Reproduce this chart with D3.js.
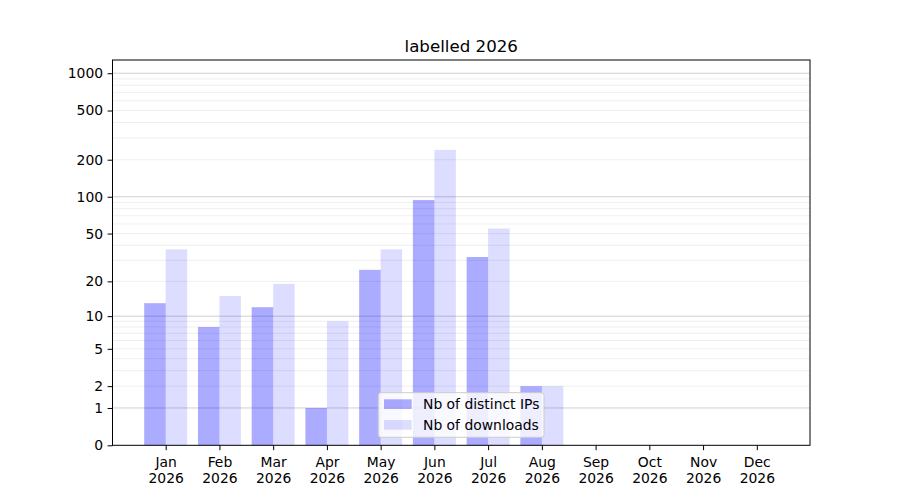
<!DOCTYPE html>
<html>
<head>
<meta charset="utf-8">
<script src="https://cdn.jsdelivr.net/npm/d3@7/dist/d3.min.js"></script>
<style>
  html, body { margin: 0; padding: 0; background: #fff; }
  svg { display: block; font-family: "DejaVu Sans", sans-serif; }
</style>
</head>
<body>
<svg id="chart" width="900" height="500"></svg>
<script>
const months = ["Jan", "Feb", "Mar", "Apr", "May", "Jun", "Jul", "Aug", "Sep", "Oct", "Nov", "Dec"];
const yearLabel = "2026";
const distinctIPs = [13, 8, 12, 1, 25, 94, 32, 2, 0, 0, 0, 0];
const downloads = [37, 15, 19, 9, 37, 240, 55, 2, 0, 0, 0, 0];
const seriesNames = ["Nb of distinct IPs", "Nb of downloads"];
const yTickValues = [0, 1, 2, 5, 10, 20, 50, 100, 200, 500, 1000];
const majorGrid = [1, 10, 100, 1000];
const minorGrid = [2,3,4,5,6,7,8,9,20,30,40,50,60,70,80,90,200,300,400,500,600,700,800,900];
const title = "labelled 2026";

const svg = d3.select("#chart");
const L = 112.5, R = 810, T = 60, B = 445.3;

const x = d3.scaleLinear().domain([-0.99, 11.99]).range([L, R]);
// log10(1 + v) transform
const t = v => Math.log10(1 + v);
const yT = d3.scaleLinear().domain([0, (B - T) / 124]).range([B, T]);
const y = v => yT(t(v));

const barW = x(0.4) - x(0);

// grid
const grid = svg.append("g");
grid.selectAll("line.minor").data(minorGrid).join("line")
  .attr("x1", L).attr("x2", R)
  .attr("y1", d => y(d)).attr("y2", d => y(d))
  .attr("stroke", "#ebebeb").attr("stroke-width", 0.8);
grid.selectAll("line.major").data(majorGrid).join("line")
  .attr("x1", L).attr("x2", R)
  .attr("y1", d => y(d)).attr("y2", d => y(d))
  .attr("stroke", "#c4c4c4").attr("stroke-width", 0.8);

// bars
const bars = svg.append("g");
bars.selectAll("rect.ip").data(distinctIPs).join("rect")
  .attr("x", (d, i) => x(i - 0.4))
  .attr("width", barW)
  .attr("y", d => y(d))
  .attr("height", d => B - y(d))
  .attr("fill", "#0000ff").attr("fill-opacity", 0.33);
bars.selectAll("rect.dl").data(downloads).join("rect")
  .attr("x", (d, i) => x(i))
  .attr("width", barW)
  .attr("y", d => y(d))
  .attr("height", d => B - y(d))
  .attr("fill", "#0000ff").attr("fill-opacity", 0.135);

// axes frame
svg.append("rect").attr("x", L).attr("y", T).attr("width", R - L).attr("height", B - T)
  .attr("fill", "none").attr("stroke", "#000").attr("stroke-width", 1);

// y axis
const yAxis = d3.axisLeft(yT)
  .tickValues(yTickValues.map(t))
  .tickFormat((d, i) => String(yTickValues[i]))
  .tickSize(4.9).tickPadding(4.5);
const gy = svg.append("g").attr("transform", `translate(${L},0)`).call(yAxis);
gy.select(".domain").remove();
gy.selectAll("text").attr("font-size", "13.9px").attr("fill", "#000").attr("font-family", "DejaVu Sans");
gy.selectAll("line").attr("stroke", "#000");

// x axis
const xAxis = d3.axisBottom(x)
  .tickValues(d3.range(months.length))
  .tickFormat(i => months[i])
  .tickSize(4.9).tickPadding(4.5);
const gx = svg.append("g").attr("transform", `translate(0,${B})`).call(xAxis);
gx.select(".domain").remove();
gx.selectAll("line").attr("stroke", "#000");
gx.selectAll("text").remove();
gx.selectAll(".tick").each(function(i) {
  const g = d3.select(this);
  const tx = g.append("text").attr("text-anchor", "middle").attr("font-size", "13.9px")
    .attr("fill", "#000").attr("font-family", "DejaVu Sans");
  tx.append("tspan").attr("x", 0).attr("y", 21.7).text(months[i]);
  tx.append("tspan").attr("x", 0).attr("y", 37.7).text(yearLabel);
});

// title
svg.append("text").attr("x", (L + R) / 2).attr("y", 51.7).attr("text-anchor", "middle")
  .attr("font-size", "16.67px").attr("fill", "#000").text(title);

// legend
const lgX = 378.3, lgY = 392.7, lgW = 165.7, lgH = 44.6;
const lg = svg.append("g");
lg.append("rect").attr("x", lgX).attr("y", lgY).attr("width", lgW).attr("height", lgH)
  .attr("rx", 2.5).attr("fill", "#fff").attr("fill-opacity", 0.8)
  .attr("stroke", "#cccccc").attr("stroke-width", 1);
const lgOpac = [0.33, 0.135];
seriesNames.forEach((name, i) => {
  const ry = 399.3 + i * 20.7;
  lg.append("rect").attr("x", 384).attr("y", ry).attr("width", 27.7).attr("height", 9.7)
    .attr("fill", "#0000ff").attr("fill-opacity", lgOpac[i]);
  lg.append("text").attr("x", 423).attr("y", ry + 9.8).attr("font-size", "13.9px")
    .attr("fill", "#000").text(name);
});
</script>
</body>
</html>
